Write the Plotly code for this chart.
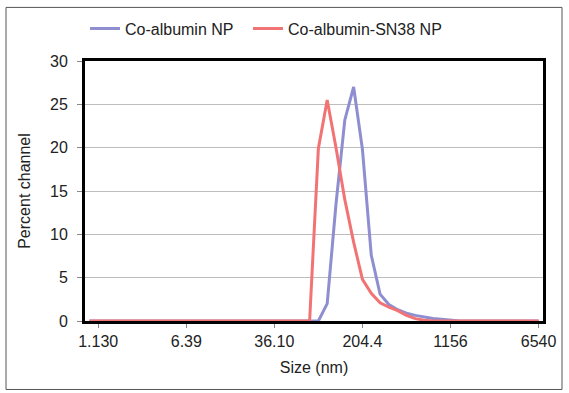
import math
import plotly.graph_objects as go

# Size channels (nm), log-spaced (Microtrac-style)
sizes = [0.95, 1.13, 1.34, 1.60, 1.90, 2.26, 2.69, 3.19, 3.80, 4.52, 5.37, 6.39,
         7.60, 9.04, 10.75, 12.78, 15.2, 18.07, 21.5, 25.55, 30.39, 36.10,
         43.0, 51.1, 60.8, 72.3, 85.9, 102.2, 121.5, 144.5, 171.9, 204.4,
         243.1, 289.1, 343.8, 408.8, 486.2, 578.2, 687.5, 817.5, 972, 1156,
         1375, 1635, 1944, 2312, 2750, 3270, 3890, 4620, 5500, 6540]

co_albumin = [0] * 27 + [2.0, 13.5, 23.2, 27.0, 19.8, 7.6, 3.1, 1.9, 1.3, 0.9,
                          0.65, 0.45, 0.3, 0.2, 0.1] + [0] * 10
co_albumin_sn38 = [0] * 26 + [19.9, 25.5, 20.0, 14.0, 9.1, 4.8, 3.2, 2.1, 1.6, 1.2,
                               0.65, 0.27, 0.1] + [0] * 13

tick_vals = [1.13, 6.39, 36.10, 204.4, 1156, 6540]
tick_text = ["1.130", "6.39", "36.10", "204.4", "1156", "6540"]

FONT = "Liberation Sans, Arial, sans-serif"
FS = 16

fig = go.Figure()
fig.add_trace(go.Scatter(x=sizes, y=co_albumin, mode="lines", name="Co-albumin NP",
                         line=dict(color="#8e8ed0", width=3), legend="legend"))
fig.add_trace(go.Scatter(x=sizes, y=co_albumin_sn38, mode="lines", name="Co-albumin-SN38 NP",
                         line=dict(color="#f27373", width=3), legend="legend2"))

half = math.log10(2) / 8
leg_common = dict(orientation="h", xanchor="left", y=1.125, yanchor="middle",
                  font=dict(size=FS), bgcolor="rgba(0,0,0,0)")
fig.update_layout(
    width=569, height=393,
    margin=dict(l=85, r=26, t=59, b=72),
    paper_bgcolor="white", plot_bgcolor="white",
    font=dict(family=FONT, size=FS, color="#222"),
    showlegend=True,
    legend=dict(x=(85 - 85) / 458, **leg_common),
    legend2=dict(x=(248 - 85) / 458, **leg_common),
    xaxis=dict(type="log", range=[math.log10(sizes[0]) - half, math.log10(sizes[-1]) + half],
               tickmode="array", tickvals=tick_vals, ticktext=tick_text,
               showgrid=False, zeroline=False,
               showline=True, linecolor="black", linewidth=3, mirror=True,
               ticks="outside", ticklen=4, tickcolor="#888",
               layer="below traces",
               title=dict(text="Size (nm)", font=dict(size=FS), standoff=13)),
    yaxis=dict(range=[0, 30], dtick=5, showgrid=True, gridcolor="#bdbdbd", gridwidth=1,
               zeroline=False, showline=True, linecolor="black", linewidth=3, mirror=True,
               ticks="outside", ticklen=5, tickcolor="#888", ticklabelstandoff=6,
               layer="below traces",
               title=dict(text="Percent channel", font=dict(size=FS), standoff=16)),
)

# outer chart frame
fig.add_shape(type="rect", xref="paper", yref="paper",
              x0=(6 - 85) / 458, x1=(562 - 85) / 458,
              y0=(321 - 390) / 262, y1=(321 - 5) / 262,
              line=dict(color="#555", width=1), layer="below")

fig.write_html("out.html", config={"displayModeBar": False},
               post_script="document.body.style.margin='0';")
